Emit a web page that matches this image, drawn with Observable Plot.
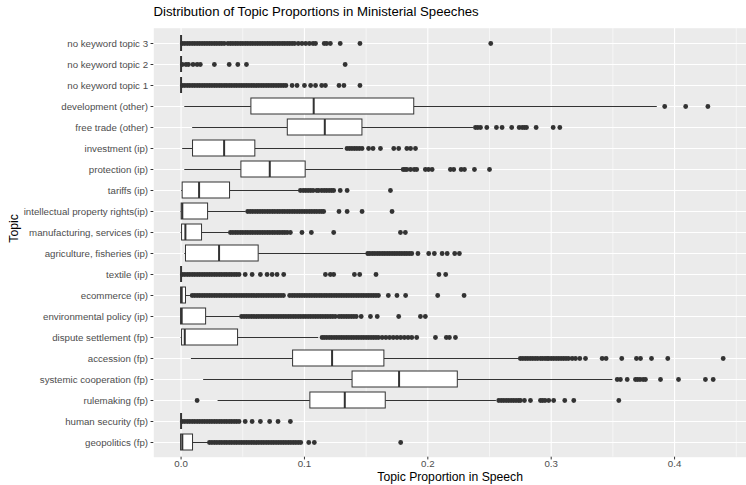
<!DOCTYPE html>
<html><head><meta charset="utf-8">
<script src="https://cdn.jsdelivr.net/npm/d3@7"></script>
<script src="https://cdn.jsdelivr.net/npm/@observablehq/plot@0.6"></script>
<style>
body{margin:0;background:#fff;overflow:hidden}
#wrap{position:relative;width:746px;height:485px;font-family:"Liberation Sans",Arial,sans-serif}
#chart{position:absolute;left:0;top:0}
#title{position:absolute;left:153.5px;top:5px;font-size:13.2px;line-height:1;color:#000;white-space:nowrap;z-index:2}
</style></head><body>
<div id="wrap"><div id="chart"></div><div id="title"></div></div>
<script>
const titleText = "Distribution of Topic Proportions in Ministerial Speeches";
const xTitle = "Topic Proportion in Speech";
const yTitle = "Topic";
const xTickValues = [0, 0.1, 0.2, 0.3, 0.4];
const xTickLabels = ["0.0", "0.1", "0.2", "0.3", "0.4"];
const xMinorTicks = [0.05, 0.15, 0.25, 0.35, 0.45];

const categories = ["no keyword topic 3","no keyword topic 2","no keyword topic 1","development (other)","free trade (other)","investment (ip)","protection (ip)","tariffs (ip)","intellectual property rights(ip)","manufacturing, services (ip)","agriculture, fisheries (ip)","textile (ip)","ecommerce (ip)","environmental policy (ip)","dispute settlement (fp)","accession (fp)","systemic cooperation (fp)","rulemaking (fp)","human security (fp)","geopolitics (fp)"];

const whiskerLow  = [0,0,0,0.003,0.0094,0.0013,0.003,0.0005,0,0,0.003,0,0,0,0,0.0084,0.0183,0.030,0,0];
const q1          = [0,0,0,0.057,0.0865,0.0097,0.0489,0.0013,0.0005,0.0008,0.004,0,0,0,0.0008,0.0908,0.139,0.1048,0,0];
const median      = [0,0,0,0.1075,0.1165,0.0349,0.0719,0.0146,0.001,0.0035,0.0308,0,0.0005,0.0005,0.003,0.1224,0.1767,0.1327,0,0.001];
const q3          = [0,0,0,0.189,0.147,0.0602,0.101,0.0397,0.0219,0.017,0.0629,0,0.004,0.0203,0.0462,0.1648,0.2243,0.1659,0,0.0097];
const whiskerHigh = [0,0,0,0.386,0.237,0.1318,0.179,0.0962,0.0527,0.0394,0.1508,0,0.008,0.048,0.1116,0.275,0.35,0.2556,0,0.0224];

const outNk3 = [0.001,0.003,0.005,0.007,0.009,0.011,0.013,0.015,0.017,0.019,0.021,0.023,0.025,0.027,0.029,0.031,0.033,0.035,0.038,0.040,0.042,0.044,0.046,0.048,0.050,0.052,0.054,0.056,0.058,0.060,0.062,0.064,0.066,0.068,0.070,0.072,0.074,0.076,0.078,0.080,0.082,0.084,0.086,0.088,0.090,0.092,0.095,0.098,0.101,0.104,0.107,0.109,0.116,0.118,0.121,0.129,0.145,0.251];
const outNk2 = [0.001,0.004,0.006,0.0097,0.013,0.0156,0.027,0.039,0.046,0.053,0.133];
const outNk1 = [0.001,0.003,0.005,0.007,0.009,0.011,0.013,0.015,0.017,0.019,0.021,0.023,0.025,0.027,0.029,0.031,0.033,0.035,0.037,0.039,0.041,0.043,0.045,0.047,0.049,0.051,0.053,0.055,0.057,0.059,0.061,0.063,0.065,0.067,0.069,0.071,0.073,0.075,0.077,0.079,0.081,0.083,0.085,0.090,0.094,0.100,0.105,0.109,0.114,0.117,0.128,0.132,0.145];
const outDev = [0.392,0.409,0.427];
const outFree = [0.2386,0.2405,0.2427,0.2478,0.2556,0.2602,0.268,0.274,0.2765,0.2783,0.280,0.2878,0.3016,0.307];
const outInv = [0.1345,0.1365,0.1385,0.1405,0.1425,0.1445,0.1467,0.152,0.1556,0.1616,0.1724,0.1764,0.183,0.186,0.190];
const outProt = [0.180,0.1815,0.183,0.186,0.189,0.191,0.198,0.2005,0.2035,0.2183,0.221,0.227,0.2297,0.2378,0.250];
const outTar = [0.0967,0.099,0.101,0.103,0.105,0.107,0.110,0.1115,0.114,0.116,0.118,0.120,0.122,0.1237,0.129,0.1346,0.1697];
const outIpr = [0.054,0.056,0.058,0.060,0.062,0.064,0.066,0.068,0.070,0.072,0.074,0.076,0.078,0.080,0.082,0.084,0.086,0.088,0.090,0.092,0.094,0.096,0.098,0.100,0.102,0.104,0.106,0.108,0.110,0.112,0.114,0.1156,0.128,0.1346,0.1467,0.171];
const outMan = [0.040,0.042,0.044,0.046,0.048,0.050,0.052,0.054,0.056,0.058,0.060,0.062,0.064,0.066,0.068,0.070,0.072,0.074,0.076,0.078,0.080,0.082,0.084,0.086,0.0886,0.098,0.1056,0.1237,0.1778,0.1818];
const outAgr = [0.1513,0.153,0.155,0.157,0.159,0.161,0.163,0.165,0.167,0.169,0.171,0.173,0.175,0.177,0.179,0.181,0.183,0.185,0.187,0.192,0.2007,0.2053,0.2116,0.2157,0.2218,0.2256];
const outTex = [0.001,0.003,0.005,0.007,0.009,0.011,0.013,0.015,0.017,0.019,0.021,0.023,0.025,0.027,0.029,0.031,0.033,0.035,0.037,0.039,0.041,0.043,0.045,0.047,0.052,0.0576,0.0643,0.0697,0.0738,0.0778,0.0832,0.117,0.121,0.1237,0.1405,0.1448,0.158,0.209,0.2145];
const outEco = [0.009,0.011,0.013,0.015,0.017,0.019,0.021,0.023,0.025,0.027,0.029,0.031,0.033,0.035,0.037,0.039,0.041,0.043,0.045,0.047,0.049,0.051,0.053,0.055,0.057,0.059,0.061,0.063,0.065,0.067,0.069,0.071,0.073,0.075,0.077,0.079,0.081,0.083,0.088,0.090,0.092,0.094,0.096,0.098,0.100,0.102,0.104,0.106,0.108,0.110,0.112,0.114,0.116,0.118,0.120,0.122,0.124,0.126,0.128,0.130,0.132,0.134,0.136,0.138,0.140,0.142,0.144,0.146,0.148,0.150,0.152,0.154,0.156,0.158,0.160,0.168,0.175,0.182,0.208,0.2294];
const outEnv = [0.049,0.051,0.053,0.055,0.057,0.059,0.061,0.063,0.065,0.067,0.069,0.071,0.073,0.075,0.077,0.079,0.081,0.083,0.085,0.087,0.089,0.091,0.093,0.095,0.097,0.099,0.101,0.103,0.105,0.107,0.109,0.111,0.113,0.115,0.117,0.119,0.121,0.123,0.125,0.128,0.130,0.132,0.134,0.136,0.138,0.140,0.142,0.146,0.1535,0.159,0.1764,0.194,0.198];
const outDis = [0.1143,0.116,0.118,0.120,0.122,0.124,0.126,0.128,0.130,0.132,0.134,0.136,0.138,0.140,0.142,0.144,0.146,0.148,0.150,0.152,0.154,0.156,0.158,0.160,0.163,0.166,0.169,0.172,0.175,0.178,0.181,0.184,0.187,0.191,0.2062,0.215,0.2175,0.2224];
const outAcc = [0.275,0.277,0.279,0.281,0.283,0.285,0.287,0.289,0.2913,0.293,0.295,0.2967,0.298,0.300,0.302,0.304,0.306,0.308,0.310,0.312,0.314,0.317,0.3197,0.3232,0.3278,0.3413,0.3445,0.3572,0.3691,0.3724,0.3813,0.3945,0.4394];
const outSys = [0.3535,0.3561,0.3616,0.3683,0.370,0.372,0.3745,0.3764,0.3886,0.4032,0.425,0.4313];
const outRule = [0.013,0.2575,0.2595,0.2615,0.2635,0.2655,0.2675,0.2695,0.2715,0.2735,0.275,0.2783,0.2832,0.2913,0.293,0.295,0.298,0.302,0.311,0.3183,0.3548];
const outHum = [0.001,0.003,0.005,0.007,0.009,0.011,0.013,0.015,0.017,0.019,0.021,0.023,0.025,0.027,0.029,0.031,0.033,0.035,0.037,0.039,0.041,0.043,0.045,0.047,0.052,0.0576,0.0643,0.0718,0.0786,0.0886];
const outGeo = [0.023,0.025,0.027,0.029,0.031,0.033,0.035,0.037,0.039,0.041,0.043,0.045,0.047,0.049,0.051,0.053,0.055,0.057,0.059,0.061,0.063,0.065,0.067,0.069,0.071,0.073,0.075,0.077,0.079,0.081,0.083,0.085,0.087,0.089,0.091,0.093,0.095,0.097,0.1035,0.108,0.178];

const outliers = [outNk3,outNk2,outNk1,outDev,outFree,outInv,outProt,outTar,outIpr,outMan,outAgr,outTex,outEco,outEnv,outDis,outAcc,outSys,outRule,outHum,outGeo];

document.getElementById("title").textContent = titleText;

const rows = categories.map((c, i) => ({cat: c, lo: whiskerLow[i], q1: q1[i], med: median[i], q3: q3[i], hi: whiskerHigh[i]}));
const pts = categories.flatMap((c, i) => outliers[i].map(v => ({cat: c, v})));
const ink = "#333333";

const chart = Plot.plot({
  width: 746, height: 485,
  marginLeft: 153.3, marginRight: 0, marginTop: 27.7, marginBottom: 28.3,
  style: {fontFamily: "Liberation Sans, Arial, sans-serif", fontSize: "9.7px", color: "#4d4d4d", background: "transparent", overflow: "visible"},
  x: {domain: [-0.0221, 0.4583], axis: null},
  y: {type: "band", domain: categories, paddingInner: 0.25, paddingOuter: 0.225, axis: null},
  marks: [
    Plot.frame({fill: "#EBEBEB", stroke: null}),
    Plot.gridX(xMinorTicks, {stroke: "#fff", strokeOpacity: 1, strokeWidth: 0.55}),
    Plot.gridX(xTickValues, {stroke: "#fff", strokeOpacity: 1, strokeWidth: 1.1}),
    Plot.gridY(categories, {stroke: "#fff", strokeOpacity: 1, strokeWidth: 1.1}),
    Plot.dot(pts, {x: "v", y: "cat", r: 2.4, fill: ink, stroke: null}),
    Plot.ruleY(rows, {y: "cat", x1: "lo", x2: "q1", stroke: ink, strokeWidth: 1}),
    Plot.ruleY(rows, {y: "cat", x1: "q3", x2: "hi", stroke: ink, strokeWidth: 1}),
    Plot.barX(rows, {y: "cat", x1: "q1", x2: "q3", fill: "#fff", stroke: ink, strokeWidth: 1}),
    Plot.tickX(rows, {y: "cat", x: "med", stroke: ink, strokeWidth: 2}),
    Plot.axisX(xTickValues, {tickFormat: d => xTickLabels[xTickValues.indexOf(d)], tickSize: 2.75, tickPadding: 0, stroke: ink, fill: "#4d4d4d", label: null}),
    Plot.axisY(categories, {tickSize: 2.75, tickPadding: 3, stroke: ink, fill: "#4d4d4d", label: null}),
    Plot.text([xTitle], {text: d => d, frameAnchor: "bottom", dy: 23.5, fontSize: 12.2, fill: "#000"}),
    Plot.text([yTitle], {text: d => d, frameAnchor: "left", rotate: -90, dx: -139.3, fontSize: 12.2, fill: "#000"})
  ]
});
document.getElementById("chart").appendChild(chart);
</script>
</body></html>
